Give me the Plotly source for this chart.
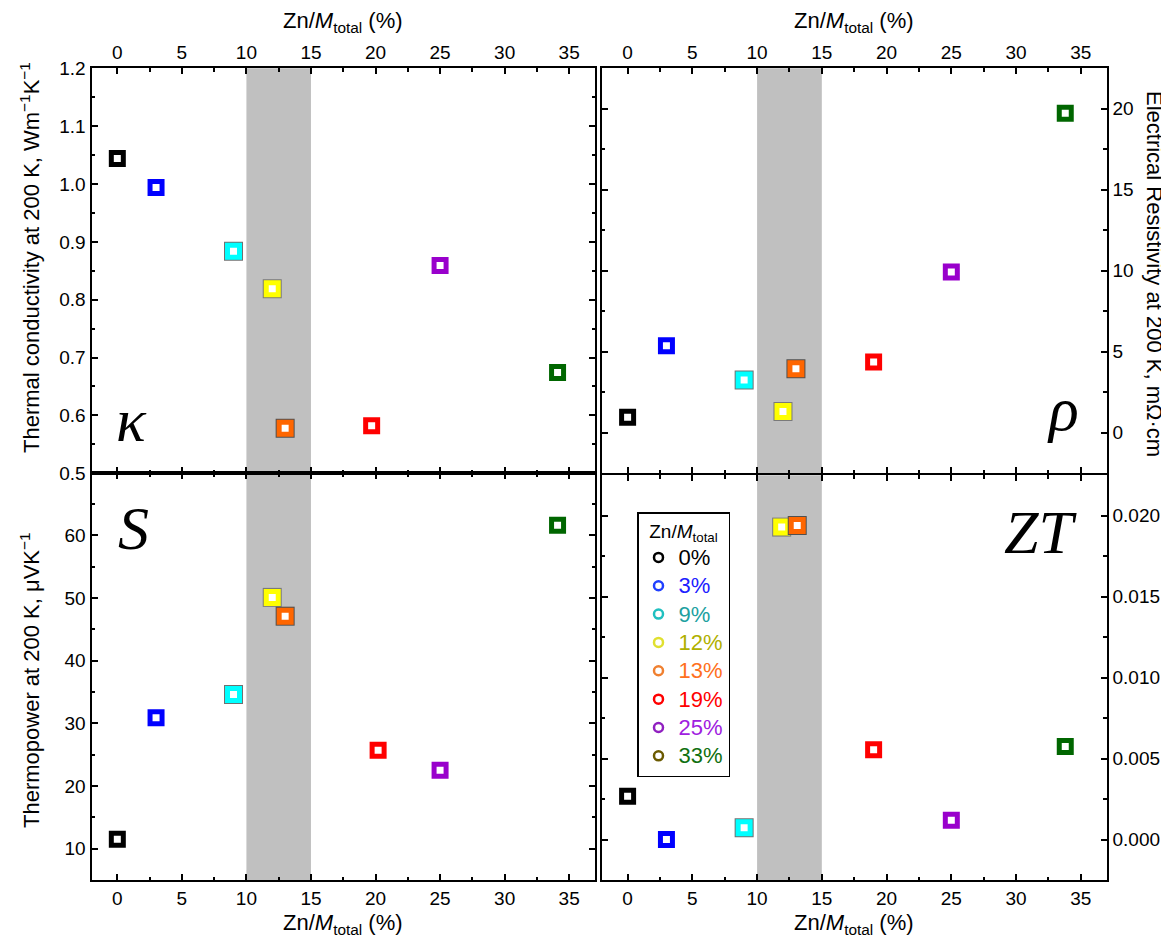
import plotly.graph_objects as go

W, H = 1169, 943
OFF = 8  # browser body margin compensation

# ---------------- data ----------------
labels = ["0%", "3%", "9%", "12%", "13%", "19%", "25%", "33%"]
marker_colors = ["#000000", "#0000FF", "#00FFFF", "#FFFF00", "#FF6600", "#FF0000", "#9900CC", "#006600"]
edge_colors = [None, None, "#707070", "#7A7A7A", "#505050", None, None, None]
legend_marker_colors = ["#000000", "#2040FF", "#20C0C0", "#E0E030", "#F08030", "#FF0000", "#9020C0", "#6B5A00"]
legend_text_colors = ["#000000", "#2020FF", "#20A0A0", "#B0B000", "#FF7020", "#FF0000", "#A020E0", "#107010"]

kappa_x = [0, 3, 9, 12, 13, 19.7, 25, 34.1]
kappa = [1.044, 0.994, 0.884, 0.819, 0.578, 0.582, 0.859, 0.674]

rho_x = [0, 3, 9, 12, 13, 19, 25, 33.8]
rho = [0.96, 5.37, 3.26, 1.31, 3.96, 4.37, 9.93, 19.73]

s_x = [0, 3, 9, 12, 13, 20.2, 25, 34.1]
seebeck = [11.5, 30.9, 34.6, 50.1, 47.1, 25.7, 22.5, 61.6]

zt_x = [0, 3, 9, 11.9, 13.1, 19, 25, 33.8]
zt = [0.00267, 0.0, 0.00072, 0.0193, 0.0194, 0.00554, 0.00119, 0.00574]

band = [10, 15]
x_ticks = [0, 5, 10, 15, 20, 25, 30, 35]

# ---------------- geometry helpers ----------------
def px_x(p):
    return (p - OFF) / W

def px_y(p):
    return 1 - (p - OFF) / H

L0, L1 = 91.5, 595.0
R0, R1 = 601.7, 1106.7
T0, MID, B1 = 68.3, 473.3, 880.0

FONT = "Liberation Sans, Arial, sans-serif"
SERIF = "Liberation Serif, Times New Roman, serif"

fig = go.Figure()


def add_panel(xs, ys, xa, ya):
    for i in range(len(xs)):
        if edge_colors[i]:
            fig.add_trace(go.Scatter(
                x=[xs[i]], y=[ys[i]], mode="markers", xaxis=xa, yaxis=ya,
                showlegend=False, hoverinfo="skip",
                marker=dict(symbol="square", size=19, color=edge_colors[i], line=dict(width=0)),
            ))
        fig.add_trace(go.Scatter(
            x=[xs[i]], y=[ys[i]], mode="markers", xaxis=xa, yaxis=ya,
            showlegend=False, name=labels[i],
            marker=dict(symbol="square", size=12, color="white",
                        line=dict(width=5, color=marker_colors[i])),
        ))


add_panel(kappa_x, kappa, "x", "y")
add_panel(rho_x, rho, "x2", "y2")
add_panel(s_x, seebeck, "x3", "y3")
add_panel(zt_x, zt, "x4", "y4")

# legend entries (open circles)
for i, lab in enumerate(labels):
    fig.add_trace(go.Scatter(
        x=[None], y=[None], mode="markers", xaxis="x4", yaxis="y4",
        name=f'<span style="color:{legend_text_colors[i]};font-size:22px">{lab}</span>',
        marker=dict(symbol="circle-open", size=9, color=legend_marker_colors[i],
                    line=dict(width=2.5, color=legend_marker_colors[i])),
        showlegend=True,
    ))

axis_common = dict(
    showline=True, linecolor="black", linewidth=2, mirror="ticks",
    ticks="inside", ticklen=6, tickwidth=1.5, tickcolor="black",
    showgrid=False, zeroline=False, automargin=False,
    tickfont=dict(family=FONT, size=19, color="black"),
)


def xaxis(domain, anchor, side):
    return dict(
        axis_common, domain=domain, anchor=anchor, side=side,
        range=[-2, 37], tickmode="array", tickvals=x_ticks,
        minor=dict(ticks="inside", ticklen=3.5, tickwidth=1.5, tickcolor="black",
                   tickmode="linear", tick0=0, dtick=2.5),
    )


xl = [px_x(L0), px_x(L1)]
xr = [px_x(R0), px_x(R1)]
yt = [px_y(MID), px_y(T0)]
yb = [px_y(B1), px_y(MID)]
yb_r = [px_y(B1), px_y(MID + 2)]

fig.update_layout(
    xaxis=xaxis(xl, "y", "top"),
    xaxis2=xaxis(xr, "y2", "top"),
    xaxis3=xaxis(xl, "y3", "bottom"),
    xaxis4=xaxis(xr, "y4", "bottom"),
    yaxis=dict(axis_common, domain=yt, anchor="x", side="left",
               range=[0.4999, 1.2001], tickmode="array",
               tickvals=[0.5, 0.6, 0.7, 0.8, 0.9, 1.0, 1.1, 1.2],
               ticktext=["0.5", "0.6", "0.7", "0.8", "0.9", "1.0", "1.1", "1.2"],
               minor=dict(ticks="inside", ticklen=3.5, tickwidth=1.5, tickcolor="black",
                          tickmode="linear", tick0=0.5, dtick=0.05)),
    yaxis2=dict(axis_common, domain=yt, anchor="x2", side="right",
                range=[-2.5, 22.5], tickmode="array", tickvals=[0, 5, 10, 15, 20],
                minor=dict(ticks="inside", ticklen=3.5, tickwidth=1.5, tickcolor="black",
                           tickmode="linear", tick0=0, dtick=2.5)),
    yaxis3=dict(axis_common, domain=yb, anchor="x3", side="left",
                range=[5, 69.9], tickmode="array", tickvals=[10, 20, 30, 40, 50, 60],
                minor=dict(ticks="inside", ticklen=3.5, tickwidth=1.5, tickcolor="black",
                           tickmode="linear", tick0=5, dtick=5)),
    yaxis4=dict(axis_common, domain=yb_r, anchor="x4", side="right",
                range=[-0.0025, 0.0225], tickmode="array",
                tickvals=[0, 0.005, 0.010, 0.015, 0.020],
                ticktext=["0.000", "0.005", "0.010", "0.015", "0.020"],
                minor=dict(ticks="inside", ticklen=3.5, tickwidth=1.5, tickcolor="black",
                           tickmode="linear", tick0=0, dtick=0.0025)),
)

# gray band in every panel
for xa, ya in [("x", "y"), ("x2", "y2"), ("x3", "y3"), ("x4", "y4")]:
    fig.add_shape(type="rect", xref=xa, yref=f"{ya} domain", x0=band[0], x1=band[1],
                  y0=0, y1=1, fillcolor="#C0C0C0", line=dict(width=0), layer="below")

zn_title = "Zn/<i>M</i><sub>total</sub> (%)"
ann = []


def add_ann(text, xp, yp, size, family=FONT, angle=0, xanchor="center", yanchor="middle"):
    ann.append(dict(text=text, x=px_x(xp), y=px_y(yp), xref="paper", yref="paper",
                    showarrow=False, textangle=angle, xanchor=xanchor, yanchor=yanchor,
                    font=dict(family=family, size=size, color="black")))


add_ann(zn_title, (L0 + L1) / 2, 22, 22)
add_ann(zn_title, (R0 + R1) / 2, 22, 22)
add_ann(zn_title, (L0 + L1) / 2, 924, 22)
add_ann(zn_title, (R0 + R1) / 2, 924, 22)
add_ann("Thermal conductivity at 200 K, Wm<sup>\u22121</sup>K<sup>\u22121</sup>", 30, 258, 22, angle=-90)
add_ann("Thermopower at 200 K, \u03bcVK<sup>\u22121</sup>", 30, 680, 22, angle=-90)
add_ann("Electrical Resistivity at 200 K, m\u03a9\u00b7cm", 1155, 274, 22, angle=90)

add_ann("<i>\u03ba</i>", 131, 420, 62, family=SERIF)
add_ann("<i>\u03c1</i>", 1063, 409, 62, family=SERIF)
add_ann("<i>S</i>", 133, 528, 62, family=SERIF)
add_ann("<i>ZT</i>", 1040, 532, 62, family=SERIF)

fig.update_layout(
    annotations=ann,
    width=W, height=H,
    margin=dict(l=0, r=0, t=0, b=0, autoexpand=False),
    paper_bgcolor="white", plot_bgcolor="white",
    showlegend=True,
    legend=dict(
        x=px_x(637), y=px_y(512), xanchor="left", yanchor="top",
        bgcolor="white", bordercolor="black", borderwidth=1.5,
        font=dict(family=FONT, size=19.5, color="black"),
        title=dict(text="Zn/<i>M</i><sub>total</sub>", side="top center",
                   font=dict(family=FONT, size=19, color="black")),
        itemwidth=30, tracegroupgap=0,
    ),
)

fig.write_html("out.html")
